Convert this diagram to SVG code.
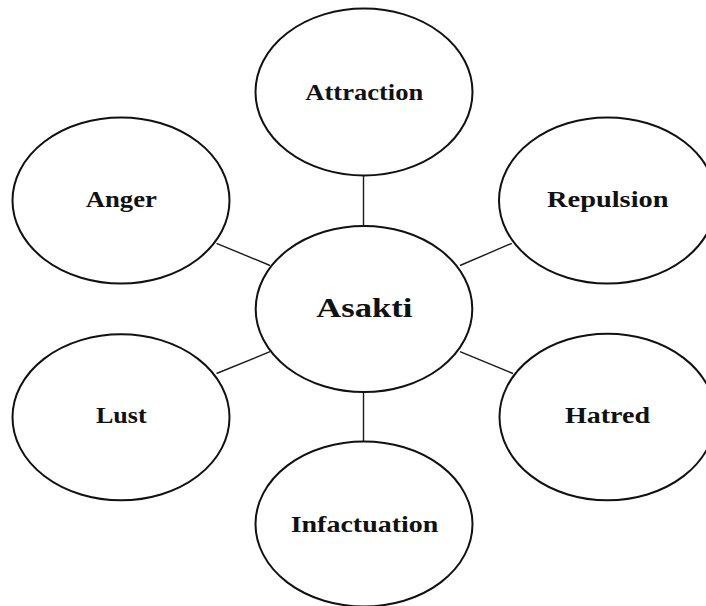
<svg xmlns="http://www.w3.org/2000/svg" width="706" height="606" viewBox="0 0 706 606">
  <style>
    .node ellipse { fill: #ffffff; stroke: #111111; stroke-width: 2; }
    .node text { font-family: "Liberation Serif", "Times New Roman", serif; font-weight: bold; font-size: 24px; fill: #111111; text-anchor: middle; }
    .node.hub text { font-size: 28px; }
    .links line { stroke: #1a1a1a; stroke-width: 1.4; }
  </style>
  <rect width="706" height="606" fill="#ffffff"/>

  <!-- spokes between the hub and the surrounding ellipses -->
  <g class="links">
    <line x1="363.5" y1="176" x2="363.5" y2="226"/>
    <line x1="363.5" y1="392" x2="363.5" y2="442"/>
    <line x1="216.5" y1="243.3" x2="270" y2="265.5"/>
    <line x1="511.8" y1="243.3" x2="460" y2="265.5"/>
    <line x1="216.5" y1="373.5" x2="270" y2="351.7"/>
    <line x1="513" y1="373.5" x2="460" y2="351.7"/>
  </g>

  <g id="attraction" class="node">
    <ellipse cx="364" cy="92" rx="108.5" ry="83.5"/>
    <text x="364.3" y="99.7" textLength="118" lengthAdjust="spacingAndGlyphs">Attraction</text>
  </g>

  <g id="anger" class="node">
    <ellipse cx="121" cy="200.5" rx="108.5" ry="83"/>
    <text x="121.3" y="206.8" textLength="71" lengthAdjust="spacingAndGlyphs">Anger</text>
  </g>

  <g id="repulsion" class="node">
    <ellipse cx="607.5" cy="200.5" rx="108.5" ry="83"/>
    <text x="607.8" y="206.8" textLength="121.5" lengthAdjust="spacingAndGlyphs">Repulsion</text>
  </g>

  <g id="asakti" class="node hub">
    <ellipse cx="364" cy="309" rx="108.3" ry="83"/>
    <text x="364.3" y="316.8" textLength="96" lengthAdjust="spacingAndGlyphs">Asakti</text>
  </g>

  <g id="lust" class="node">
    <ellipse cx="121" cy="417.3" rx="108.5" ry="83"/>
    <text x="121.3" y="423.3" textLength="50.7" lengthAdjust="spacingAndGlyphs">Lust</text>
  </g>

  <g id="hatred" class="node">
    <ellipse cx="607.5" cy="417" rx="108" ry="83.3"/>
    <text x="607.5" y="422.8" textLength="85" lengthAdjust="spacingAndGlyphs">Hatred</text>
  </g>

  <g id="infactuation" class="node">
    <ellipse cx="364" cy="524" rx="108.5" ry="82.5"/>
    <text x="364.5" y="531.7" textLength="147.6" lengthAdjust="spacingAndGlyphs">Infactuation</text>
  </g>
</svg>
